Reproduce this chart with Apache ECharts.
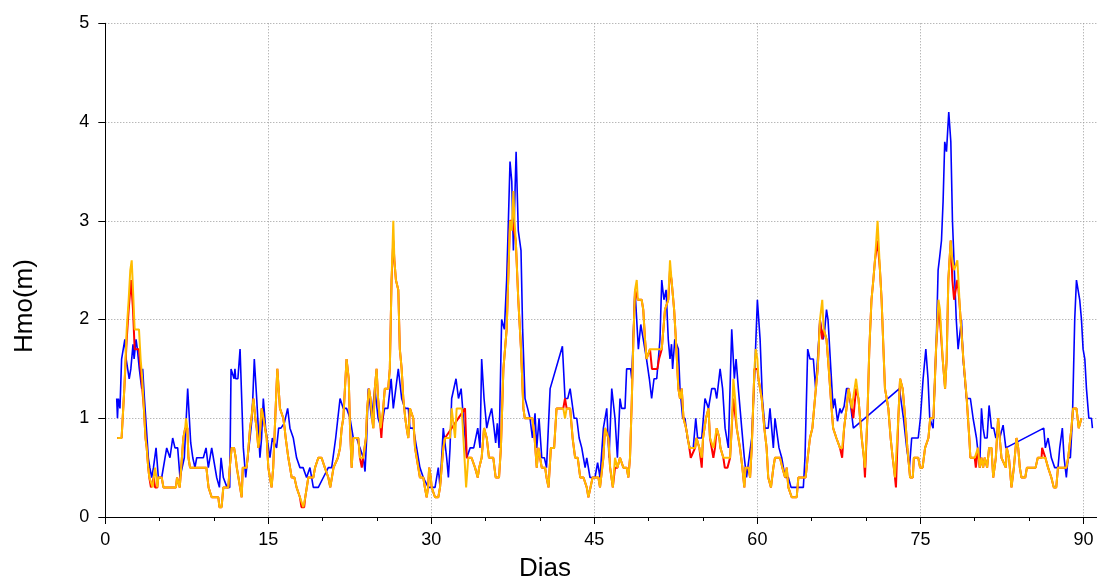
<!DOCTYPE html>
<html>
<head>
<meta charset="utf-8">
<script src="https://cdn.jsdelivr.net/npm/echarts@6/dist/echarts.min.js"></script>
<style>
  html, body { margin: 0; padding: 0; background: #ffffff; }
  #chart { width: 1097px; height: 581px; }
</style>
</head>
<body>
<div id="chart"></div>
<script>
// Axis ticks (days / metres)
const xTicks = [0, 15, 30, 45, 60, 75, 90];
const xMinorTicks = [5, 10, 20, 25, 35, 40, 50, 55, 65, 70, 80, 85];
const yTicks = [0, 1, 2, 3, 4, 5];

// Significant wave height series, [day, Hmo in m]
const serieAzul = [
  [1.05,1.2],[1.12,1.0],[1.2,1.2],[1.35,1.1],[1.5,1.6],[1.65,1.6],[1.8,1.8],[1.92,1.6],[2.2,1.4],[2.35,1.5],[2.55,1.75],[2.65,1.6],[2.83,1.8],[2.95,1.7],[3.13,1.5],[3.35,1.3],[3.44,1.5],[3.6,1.2],[3.78,0.9],[3.96,0.6],[4.1,0.5],[4.27,0.4],[4.43,0.5],[4.67,0.7],[4.88,0.4],[5.19,0.4],[5.65,0.7],[5.95,0.6],[6.2,0.8],[6.41,0.7],[6.66,0.7],[6.87,0.4],[7.27,0.6],[7.58,1.3],[7.86,0.75],[8.05,0.6],[8.25,0.5],[8.41,0.6],[9.02,0.6],[9.27,0.7],[9.48,0.5],[9.79,0.7],[10.25,0.4],[10.5,0.3],[10.65,0.6],[10.86,0.4],[11.2,0.3],[11.45,0.3],
  [11.57,1.5],[11.7,1.5],[11.85,1.4],[11.93,1.5],[12.0,1.4],[12.2,1.4],[12.4,1.7],[12.7,0.7],[12.92,0.4],[13.1,0.6],[13.32,0.8],[13.5,1.0],[13.71,1.6],[13.93,1.2],[14.23,0.6],[14.38,0.8],[14.54,1.2],[14.75,0.9],[14.9,0.9],[15.15,0.6],[15.37,0.8],[15.55,0.8],[15.76,0.7],[15.95,0.9],[16.16,0.9],[16.47,0.95],[16.78,1.1],[16.99,0.9],[17.3,0.8],[17.45,0.8],[17.6,0.6],[17.91,0.5],[18.2,0.5],[18.52,0.4],[18.83,0.5],[19.14,0.3],[19.6,0.3],[20.06,0.4],[20.52,0.5],[20.83,0.5],[21.2,0.8],[21.6,1.2],[21.75,1.2],[21.9,1.1],[22.2,1.1],
  [22.52,1.0],[22.82,0.8],[23.13,0.8],[23.43,0.7],[23.74,0.6],[23.9,0.46],[24.05,0.8],[24.2,1.3],[24.5,1.0],[24.8,1.3],[25.1,1.0],[25.4,0.9],[25.7,1.1],[26.0,1.1],[26.3,1.4],[26.5,1.1],[26.96,1.5],[27.27,1.2],[27.57,1.1],[27.88,1.1],[28.03,0.9],[28.34,0.9],[28.65,0.7],[28.95,0.5],[29.26,0.4],[29.72,0.3],[30.03,0.3],[30.34,0.3],[30.64,0.5],[30.8,0.3],[31.1,0.9],[31.41,0.6],[31.57,0.4],[31.72,0.7],[31.87,1.2],[32.03,1.2],[32.27,1.4],[32.5,1.2],[32.74,1.3],[32.95,1.0],[33.26,0.6],[33.57,0.7],[33.9,0.7],
  [34.02,0.7],[34.27,0.9],[34.48,0.7],[34.63,1.6],[34.85,1.2],[35.1,0.9],[35.3,1.0],[35.55,1.1],[35.77,0.9],[35.92,0.75],[36.07,0.95],[36.23,0.7],[36.47,2.0],[36.72,1.9],[36.93,2.4],[37.09,3.0],[37.24,3.6],[37.4,3.4],[37.55,2.7],[37.8,3.7],[38.0,2.9],[38.25,2.7],[38.4,1.9],[38.62,1.2],[38.86,1.1],[39.08,1.0],[39.3,0.8],[39.54,1.05],[39.7,0.7],[39.91,1.0],[40.16,0.6],[40.4,0.6],[40.6,0.5],[40.93,1.3],[42.06,1.73],[42.3,1.2],[42.55,1.2],[42.77,1.3],[42.92,1.3],[43.14,1.0],[43.38,1.0],[43.6,0.8],[43.84,0.7],[44.15,0.5],[44.3,0.6],[44.6,0.4],[45.06,0.4],[45.3,0.55],
  [45.52,0.4],[45.83,0.9],[46.14,1.1],[46.35,0.6],[46.6,1.3],[46.9,1.0],[47.12,0.6],[47.36,1.2],[47.51,1.1],[47.82,1.1],[47.97,1.5],[48.34,1.5],[48.44,1.4],[48.74,2.3],[49.05,1.7],[49.27,1.95],[49.5,1.8],[49.8,1.6],[50.06,1.4],[50.27,1.2],[50.49,1.4],[50.74,1.4],[51.04,1.8],[51.2,2.4],[51.4,2.2],[51.6,2.3],[51.8,1.8],[51.96,1.6],[52.1,1.75],[52.2,1.5],[52.4,1.8],[52.73,1.7],[52.88,1.3],[53.13,1.0],[53.34,1.0],[53.56,0.8],[53.8,0.7],[54.1,0.7],[54.33,1.0],[54.5,0.8],[54.88,0.8],[55.18,1.2],[55.5,1.1],[55.8,1.3],[56.1,1.3],[56.26,1.2],[56.57,1.5],[56.8,1.3],
  [57.03,0.9],[57.33,0.7],[57.64,1.9],[57.88,1.4],[58.04,1.6],[58.25,1.3],[58.56,0.9],[58.8,0.6],[59.0,0.4],[59.24,0.6],[59.48,0.8],[59.73,1.4],[60.0,2.2],[60.25,1.8],[60.46,1.2],[60.7,0.9],[61.0,0.9],[61.16,1.1],[61.47,0.7],[61.62,1.0],[61.78,1.0],[61.99,0.7],[62.24,0.6],[62.55,0.4],[62.85,0.4],[63.1,0.3],[63.46,0.3],[63.77,0.3],[64.23,0.3],[64.38,0.6],[64.63,1.7],[64.84,1.6],[65.15,1.6],[65.36,1.3],[65.6,1.7],[65.76,2.0],[65.9,1.9],[66.06,1.8],[66.2,1.9],[66.36,2.1],[66.5,2.0],[66.76,1.5],[66.97,1.1],[67.12,1.2],[67.37,0.97],[67.6,1.1],[67.73,1.05],[67.98,1.12],[68.2,1.3],[68.4,1.3],[68.83,0.9],
  [73.07,1.3],[73.44,1.0],[73.74,0.7],[73.99,0.5],[74.2,0.8],[74.5,0.8],[74.8,0.8],[75.0,1.0],[75.25,1.4],[75.5,1.7],[75.7,1.4],[75.86,1.0],[76.17,0.9],[76.47,1.8],[76.63,2.5],[76.78,2.64],[76.94,2.8],[77.09,3.2],[77.24,3.8],[77.4,3.7],[77.61,4.1],[77.8,3.8],[77.95,3.0],[78.16,2.4],[78.3,2.0],[78.47,1.7],[78.62,1.7],[78.78,2.0],[78.93,1.6],[79.09,1.4],[79.24,1.2],[79.6,1.2],[79.85,1.0],[80.16,0.8],[80.3,0.8],[80.46,0.5],[80.62,1.1],[80.77,0.9],[80.92,0.8],[81.14,0.8],[81.32,1.13],[81.54,0.9],[81.75,0.9],[81.94,0.8],[82.15,0.9],[82.3,0.8],[82.46,0.8],[82.61,0.93],[82.86,0.7],
  [86.35,0.9],[86.5,0.7],[86.75,0.8],[87.05,0.6],[87.36,0.5],[87.66,0.5],[87.82,0.7],[88.06,0.9],[88.22,0.6],[88.43,0.4],[88.59,0.6],[88.8,0.6],[88.99,1.0],[89.2,2.0],[89.36,2.4],[89.66,2.2],[89.82,2.0],[89.97,1.7],[90.13,1.6],[90.28,1.3],[90.5,1.0],[90.74,1.0],[90.83,0.9]
];

const serieVermelha = [
  [1.1,0.8],[1.5,0.8],[1.6,1.0],[1.75,1.3],[1.97,1.8],[2.15,2.1],[2.37,2.4],[2.55,2.1],[2.7,1.7],[3.1,1.7],[3.25,1.5],[3.4,1.3],[3.55,1.1],[3.7,0.8],[3.81,0.7],[3.95,0.5],[4.05,0.4],[4.2,0.3],[4.36,0.3],[4.45,0.4],[4.58,0.3],[4.79,0.3],[4.88,0.4],[5.19,0.4],[5.35,0.3],[6.5,0.3],[6.6,0.4],[6.73,0.4],[6.85,0.3],[7.03,0.3],[7.18,0.8],[7.35,0.9],[7.55,0.9],[7.65,0.6],[7.8,0.5],[9.3,0.5],[9.4,0.4],[9.5,0.3],[9.65,0.3],[9.79,0.2],[10.4,0.2],[10.5,0.1],[10.7,0.1],[10.86,0.3],[11.32,0.3],[11.45,0.5],[11.63,0.7],
  [11.85,0.7],[12.0,0.6],[12.1,0.5],[12.25,0.4],[12.4,0.3],[12.55,0.2],[12.65,0.5],[13.0,0.5],[13.1,0.6],[13.32,0.9],[13.45,1.0],[13.63,1.2],[13.8,1.0],[13.93,0.9],[14.08,0.7],[14.2,0.8],[14.39,1.1],[14.55,1.0],[14.7,0.9],[14.85,0.8],[15.0,0.5],[15.15,0.4],[15.3,0.3],[15.45,0.5],[15.6,0.9],[15.75,1.3],[15.83,1.5],[15.95,1.3],[16.07,1.1],[16.38,1.0],[16.5,0.9],[16.6,0.8],[16.84,0.6],[17.0,0.5],[17.15,0.4],[17.4,0.4],[17.6,0.3],[17.91,0.2],[18.05,0.1],[18.3,0.1],[18.4,0.2],[18.52,0.2],[18.68,0.4],[19.14,0.4],[19.3,0.5],[19.45,0.5],[19.6,0.6],[19.9,0.6],[20.2,0.5],[20.52,0.4],[20.7,0.3],[20.83,0.3],[21.0,0.5],[21.13,0.5],[21.4,0.6],[21.6,0.7],[21.75,0.9],[21.9,1.0],[22.05,1.3],[22.2,1.6],[22.4,1.4],
  [22.52,0.9],[22.67,0.5],[22.82,0.8],[23.28,0.8],[23.43,0.6],[23.6,0.5],[23.74,0.5],[23.98,0.8],[24.1,1.1],[24.26,1.3],[24.4,1.2],[24.55,1.0],[24.66,0.9],[24.8,1.3],[24.96,1.5],[25.1,1.2],[25.33,0.9],[25.4,0.8],[25.57,1.1],[25.72,1.3],[26.03,1.3],[26.18,1.5],[26.34,2.4],[26.5,2.8],[26.6,2.6],[26.74,2.4],[26.96,2.3],[27.1,1.7],[27.27,1.5],[27.42,1.2],[27.6,1.0],[27.73,0.9],[27.88,0.8],[28.03,1.1],[28.2,1.1],[28.34,1.0],[28.5,0.7],[28.8,0.5],[28.95,0.4],[29.26,0.4],[29.4,0.3],[29.57,0.2],[29.7,0.3],[29.8,0.5],[29.95,0.4],[30.03,0.3],[30.34,0.2],[30.64,0.2],[30.8,0.3],[31.1,0.7],[31.26,0.8],[33.1,1.1],[33.26,0.6],[33.4,0.6],[33.7,0.6],
  [34.02,0.5],[34.27,0.4],[34.4,0.5],[34.63,0.6],[34.85,0.9],[35.1,0.8],[35.3,0.6],[35.7,0.6],[35.92,0.4],[36.23,0.4],[36.4,0.7],[36.63,1.5],[36.93,1.9],[37.1,2.5],[37.24,3.0],[37.45,3.0],[37.6,2.9],[37.77,2.8],[38.0,2.2],[38.25,1.7],[38.47,1.1],[38.6,1.0],[39.3,1.0],[39.5,0.8],[39.7,0.5],[39.85,0.7],[40.0,0.7],[40.16,0.5],[40.47,0.5],[40.6,0.4],[40.78,0.3],[41.0,0.7],[41.3,0.7],[41.52,1.1],[42.14,1.1],[42.3,1.2],[42.45,1.1],[42.77,1.1],[43.0,0.8],[43.23,0.6],[43.47,0.6],[43.7,0.4],[44.0,0.4],[44.3,0.3],[44.45,0.2],[44.6,0.2],[44.84,0.4],[45.37,0.4],
  [45.52,0.3],[45.83,0.6],[45.98,0.9],[46.29,0.8],[46.45,0.5],[46.7,0.3],[46.9,0.5],[47.12,0.5],[47.36,0.6],[47.67,0.5],[47.97,0.5],[48.13,0.4],[48.28,0.6],[48.45,1.2],[48.59,1.8],[48.74,2.3],[49.0,2.2],[49.35,2.2],[49.5,2.1],[49.66,1.8],[49.8,1.6],[50.12,1.7],[50.3,1.5],[50.8,1.5],[50.95,1.6],[51.2,1.7],[51.5,2.1],[51.8,2.2],[51.96,2.5],[52.1,2.4],[52.34,2.1],[52.5,1.8],[52.73,1.3],[52.88,1.2],[53.04,1.3],[53.2,1.0],[53.44,0.9],[53.74,0.7],[53.87,0.6],[54.27,0.7],[54.4,0.8],[54.66,0.7],[54.88,0.5],[55.0,0.8],[55.27,1.0],[55.5,1.1],[55.64,0.8],[55.95,0.6],[56.1,0.7],[56.26,0.9],[56.5,0.8],[56.6,0.7],[56.87,0.6],[57.0,0.5],
  [57.25,0.5],[57.49,0.6],[57.64,0.9],[57.79,1.2],[57.95,1.2],[58.1,0.9],[58.4,0.7],[58.62,0.5],[58.8,0.3],[58.9,0.5],[59.17,0.5],[59.33,0.4],[59.48,0.7],[59.73,1.5],[60.0,1.5],[60.1,1.4],[60.4,1.2],[60.64,0.9],[60.85,0.7],[61.0,0.4],[61.25,0.3],[61.47,0.5],[61.62,0.6],[62.08,0.6],[62.3,0.5],[62.55,0.4],[62.7,0.5],[62.85,0.3],[63.16,0.2],[63.62,0.2],[63.77,0.4],[64.44,0.4],[64.63,0.6],[64.84,0.8],[65.06,0.9],[65.3,1.2],[65.55,1.5],[65.76,2.0],[65.97,1.8],[66.1,1.9],[66.2,1.9],[66.36,1.8],[66.57,1.5],[66.76,1.2],[66.97,0.9],[67.27,0.8],[67.6,0.7],[67.8,0.6],[67.98,0.9],[68.2,1.1],[68.4,1.3],
  [68.53,1.3],[68.68,1.1],[68.83,1.0],[69.08,1.3],[69.3,1.2],[69.45,1.0],[69.6,0.8],[69.8,0.6],[69.9,0.4],[70.12,1.0],[70.3,1.7],[70.5,2.2],[70.67,2.4],[70.82,2.6],[71.06,2.8],[71.28,2.5],[71.43,2.2],[71.6,1.7],[71.74,1.3],[71.9,1.2],[72.05,1.1],[72.26,0.8],[72.45,0.6],[72.66,0.4],[72.75,0.3],[72.97,1.0],[73.13,1.4],[73.37,1.3],[73.6,1.0],[73.8,0.7],[74.05,0.4],[74.3,0.4],[74.4,0.6],[74.8,0.6],[74.97,0.5],[75.2,0.5],[75.43,0.7],[75.74,0.8],[75.9,1.0],[76.2,1.0],[76.44,1.7],[76.66,2.1],[76.8,2.0],[77.05,1.6],[77.27,1.3],[77.42,1.6],[77.57,2.4],[77.79,2.8],[77.94,2.4],[78.1,2.2],[78.28,2.2],[78.4,2.4],[78.5,2.3],[78.64,2.1],[78.95,1.6],[79.26,1.2],[79.5,0.8],
  [79.6,0.6],[80.0,0.6],[80.1,0.5],[80.3,0.7],[80.46,0.5],[80.62,0.6],[80.77,0.5],[80.92,0.6],[81.14,0.5],[81.32,0.7],[81.54,0.7],[81.7,0.4],[81.94,0.6],[82.15,1.0],[82.3,0.8],[82.46,0.6],[82.61,0.6],[82.86,0.5],[82.95,0.7],[83.15,0.6],[83.38,0.3],[83.6,0.5],[83.84,0.8],[84.0,0.7],[84.15,0.5],[84.3,0.4],[84.65,0.4],[84.8,0.5],[85.6,0.5],[85.8,0.6],[86.15,0.6],[86.2,0.7],[86.35,0.7],[86.5,0.6],[86.75,0.5],[87.05,0.4],[87.27,0.3],[87.5,0.3],[87.66,0.5],[88.43,0.5],[88.6,0.6],[88.9,0.9],[89.05,1.1],[89.36,1.1],[89.57,0.9],[89.82,1.0]
];

const serieLaranja = [
  [1.1,0.8],[1.5,0.8],[1.6,1.0],[1.75,1.3],[1.97,1.9],[2.15,2.2],[2.3,2.5],[2.43,2.6],[2.55,2.3],[2.7,1.9],[3.1,1.9],[3.25,1.6],[3.4,1.4],[3.55,1.1],[3.7,0.8],[3.81,0.7],[3.95,0.5],[4.05,0.4],[4.2,0.4],[4.36,0.3],[4.45,0.4],[4.58,0.5],[4.7,0.4],[4.79,0.3],[4.88,0.4],[5.19,0.4],[5.35,0.3],[6.5,0.3],[6.6,0.4],[6.73,0.4],[6.85,0.3],[7.03,0.3],[7.18,0.8],[7.35,0.9],[7.43,1.0],[7.55,0.9],[7.65,0.6],[7.8,0.5],[9.3,0.5],[9.4,0.4],[9.5,0.3],[9.65,0.3],[9.79,0.2],[10.4,0.2],[10.5,0.1],[10.7,0.1],[10.86,0.3],[11.32,0.3],[11.45,0.5],[11.63,0.7],
  [11.85,0.7],[12.0,0.6],[12.1,0.5],[12.25,0.4],[12.4,0.3],[12.55,0.2],[12.65,0.5],[13.0,0.5],[13.1,0.6],[13.32,0.9],[13.45,1.0],[13.63,1.2],[13.8,1.0],[13.93,0.9],[14.08,0.7],[14.2,0.8],[14.39,1.1],[14.55,1.0],[14.7,0.9],[14.85,0.8],[15.0,0.5],[15.15,0.4],[15.3,0.3],[15.45,0.5],[15.6,0.9],[15.75,1.3],[15.83,1.5],[15.95,1.3],[16.07,1.1],[16.38,1.0],[16.5,0.9],[16.6,0.8],[16.84,0.6],[17.0,0.5],[17.15,0.4],[17.4,0.4],[17.6,0.3],[17.91,0.2],[18.05,0.2],[18.22,0.1],[18.4,0.2],[18.52,0.2],[18.68,0.4],[19.14,0.4],[19.3,0.5],[19.45,0.5],[19.6,0.6],[19.9,0.6],[20.2,0.5],[20.52,0.4],[20.7,0.3],[20.83,0.3],[21.0,0.5],[21.13,0.5],[21.4,0.6],[21.6,0.7],[21.75,0.9],[21.9,1.0],[22.05,1.3],[22.2,1.6],[22.4,1.4],
  [22.52,0.9],[22.67,0.5],[22.82,0.8],[23.28,0.8],[23.43,0.6],[23.74,0.6],[23.98,0.8],[24.1,1.1],[24.26,1.3],[24.4,1.2],[24.55,1.0],[24.66,0.9],[24.8,1.3],[24.96,1.5],[25.1,1.2],[25.33,0.9],[25.57,1.1],[25.72,1.3],[26.03,1.3],[26.18,1.5],[26.34,2.4],[26.5,3.0],[26.6,2.6],[26.74,2.4],[26.96,2.3],[27.1,1.7],[27.27,1.5],[27.42,1.2],[27.6,1.0],[27.73,0.9],[27.88,0.8],[28.03,1.1],[28.2,1.1],[28.34,1.0],[28.5,0.7],[28.8,0.5],[28.95,0.4],[29.26,0.4],[29.4,0.3],[29.57,0.2],[29.7,0.3],[29.8,0.5],[29.95,0.4],[30.03,0.3],[30.34,0.2],[30.64,0.2],[30.8,0.3],[31.1,0.7],[31.26,0.8],[31.72,0.8],[31.87,1.1],[32.03,1.1],[32.18,0.8],[32.33,1.1],[32.8,1.1],[32.95,0.8],[33.2,0.3],[33.4,0.6],[33.7,0.6],
  [34.02,0.5],[34.27,0.4],[34.4,0.5],[34.63,0.6],[34.85,0.9],[35.1,0.8],[35.3,0.6],[35.7,0.6],[35.92,0.4],[36.23,0.4],[36.4,0.7],[36.63,1.5],[36.93,1.9],[37.1,2.5],[37.24,3.0],[37.4,2.9],[37.55,3.3],[37.65,3.0],[37.77,2.8],[38.0,2.2],[38.25,1.7],[38.47,1.1],[38.6,1.0],[39.3,1.0],[39.5,0.8],[39.7,0.5],[39.85,0.7],[40.0,0.7],[40.16,0.5],[40.47,0.5],[40.6,0.4],[40.78,0.3],[41.0,0.7],[41.3,0.7],[41.52,1.1],[42.14,1.1],[42.3,1.0],[42.45,1.1],[42.77,1.1],[43.0,0.8],[43.23,0.6],[43.47,0.6],[43.7,0.4],[44.0,0.4],[44.3,0.3],[44.45,0.2],[44.6,0.2],[44.84,0.4],[45.37,0.4],
  [45.52,0.3],[45.83,0.6],[45.98,0.9],[46.29,0.8],[46.45,0.5],[46.7,0.3],[46.9,0.6],[47.12,0.5],[47.36,0.6],[47.67,0.5],[47.97,0.5],[48.13,0.4],[48.28,0.6],[48.45,1.2],[48.59,1.8],[48.74,2.3],[48.9,2.4],[49.0,2.2],[49.35,2.2],[49.5,2.1],[49.66,1.8],[49.8,1.6],[50.12,1.7],[51.2,1.7],[51.5,2.1],[51.8,2.2],[51.96,2.6],[52.1,2.4],[52.34,2.1],[52.5,1.8],[52.73,1.3],[52.88,1.2],[53.04,1.3],[53.2,1.0],[53.44,0.9],[53.74,0.7],[54.27,0.7],[54.4,0.8],[54.66,0.7],[54.88,0.6],[55.0,0.8],[55.27,1.0],[55.5,1.1],[55.64,0.8],[55.95,0.7],[56.1,0.7],[56.26,0.9],[56.5,0.8],[56.6,0.7],[56.87,0.6],
  [57.03,0.6],[57.49,0.6],[57.64,0.9],[57.79,1.4],[57.95,1.2],[58.1,0.9],[58.4,0.7],[58.62,0.5],[58.8,0.3],[58.9,0.5],[59.17,0.5],[59.33,0.4],[59.48,0.7],[59.73,1.5],[59.85,1.7],[60.0,1.6],[60.1,1.4],[60.4,1.2],[60.64,0.9],[60.85,0.7],[61.0,0.4],[61.25,0.3],[61.47,0.5],[61.62,0.6],[62.08,0.6],[62.3,0.5],[62.55,0.4],[62.7,0.5],[62.85,0.3],[63.16,0.2],[63.62,0.2],[63.77,0.4],[64.44,0.4],[64.63,0.6],[64.84,0.8],[65.06,0.9],[65.3,1.2],[65.55,1.5],[65.76,2.0],[65.97,2.2],[66.1,1.9],[66.2,1.9],[66.36,1.8],[66.57,1.5],[66.76,1.2],[66.97,0.9],[67.27,0.8],[67.6,0.7],[67.8,0.7],[67.98,0.9],[68.2,1.1],[68.4,1.3],
  [68.53,1.3],[68.68,1.1],[68.83,1.1],[69.08,1.4],[69.3,1.2],[69.45,1.0],[69.6,0.8],[69.8,0.6],[69.9,0.5],[70.12,1.0],[70.3,1.7],[70.5,2.2],[70.67,2.4],[70.82,2.6],[71.06,3.0],[71.28,2.5],[71.43,2.2],[71.6,1.7],[71.74,1.3],[71.9,1.2],[72.05,1.1],[72.26,0.8],[72.45,0.6],[72.66,0.4],[72.8,0.4],[72.97,1.0],[73.13,1.4],[73.37,1.3],[73.6,1.0],[73.8,0.7],[74.05,0.4],[74.3,0.4],[74.4,0.6],[74.8,0.6],[74.97,0.5],[75.2,0.5],[75.43,0.7],[75.74,0.8],[75.9,1.0],[76.2,1.0],[76.44,1.7],[76.66,2.2],[76.8,2.1],[77.05,1.6],[77.27,1.3],[77.42,1.6],[77.57,2.4],[77.79,2.8],[77.94,2.6],[78.1,2.5],[78.28,2.5],[78.4,2.6],[78.5,2.4],[78.64,2.1],[78.95,1.6],[79.26,1.2],[79.5,0.8],
  [79.6,0.6],[80.0,0.6],[80.3,0.7],[80.46,0.5],[80.62,0.6],[80.77,0.5],[80.92,0.6],[81.14,0.5],[81.32,0.7],[81.54,0.7],[81.7,0.4],[81.94,0.6],[82.15,1.0],[82.3,0.8],[82.46,0.6],[82.61,0.6],[82.86,0.5],[82.95,0.7],[83.15,0.6],[83.38,0.3],[83.6,0.5],[83.84,0.8],[84.0,0.7],[84.15,0.5],[84.3,0.4],[84.65,0.4],[84.8,0.5],[85.6,0.5],[85.8,0.6],[86.5,0.6],[86.75,0.5],[87.05,0.4],[87.27,0.3],[87.5,0.3],[87.66,0.5],[88.43,0.5],[88.6,0.6],[88.9,0.9],[89.05,1.1],[89.36,1.1],[89.57,0.9],[89.82,1.0]
];

const FONT = '"Liberation Sans", Arial, sans-serif';
const gridLine = { show: true, lineStyle: { color: '#9a9a9a', width: 1, type: [1, 2] } };

const chart = echarts.init(document.getElementById('chart'), null, { renderer: 'canvas' });

chart.setOption({
  animation: false,
  backgroundColor: '#ffffff',
  grid: { left: 105.3, right: 0, top: 23.3, bottom: 64, containLabel: false },
  xAxis: [
    {
      type: 'value', min: 0, max: 91.25,
      axisLine: { show: true, onZero: false, lineStyle: { color: '#000', width: 1 } },
      axisTick: { show: true, customValues: xTicks, length: 7, lineStyle: { color: '#000', width: 1 } },
      axisLabel: { show: true, customValues: xTicks, fontSize: 18, color: '#000', fontFamily: FONT, margin: 14 },
      splitLine: gridLine
    },
    {
      type: 'value', min: 0, max: 91.25, position: 'bottom',
      axisLine: { show: false },
      axisTick: { show: true, customValues: xMinorTicks, length: 4, lineStyle: { color: '#000', width: 1 } },
      axisLabel: { show: false },
      splitLine: { show: false }
    }
  ],
  yAxis: {
    type: 'value', min: 0, max: 5, interval: 1,
    axisLine: { show: true, lineStyle: { color: '#000', width: 1 } },
    axisTick: { show: true, length: 7, lineStyle: { color: '#000', width: 1 } },
    axisLabel: { fontSize: 18, color: '#000', fontFamily: FONT, margin: 16,
                 formatter: v => (yTicks.includes(v) ? String(v) : '') },
    splitLine: gridLine
  },
  graphic: [
    { type: 'text', x: 545, y: 569,
      style: { text: 'Dias', fontSize: 26, fontFamily: FONT, fill: '#000', textAlign: 'center', textVerticalAlign: 'middle' } },
    { type: 'text', x: 25, y: 306, rotation: Math.PI / 2,
      style: { text: 'Hmo(m)', fontSize: 26, fontFamily: FONT, fill: '#000', textAlign: 'center', textVerticalAlign: 'middle' } }
  ],
  series: [
    { name: 'azul', type: 'line', xAxisIndex: 0, data: serieAzul, showSymbol: false, symbol: 'none',
      lineStyle: { color: '#0000ff', width: 1.6 }, z: 2 },
    { name: 'vermelho', type: 'line', xAxisIndex: 0, data: serieVermelha, showSymbol: false, symbol: 'none',
      lineStyle: { color: '#ff0000', width: 2 }, z: 3 },
    { name: 'laranja', type: 'line', xAxisIndex: 0, data: serieLaranja, showSymbol: false, symbol: 'none',
      lineStyle: { color: '#ffbc00', width: 2 }, z: 4 }
  ]
});
</script>
</body>
</html>
